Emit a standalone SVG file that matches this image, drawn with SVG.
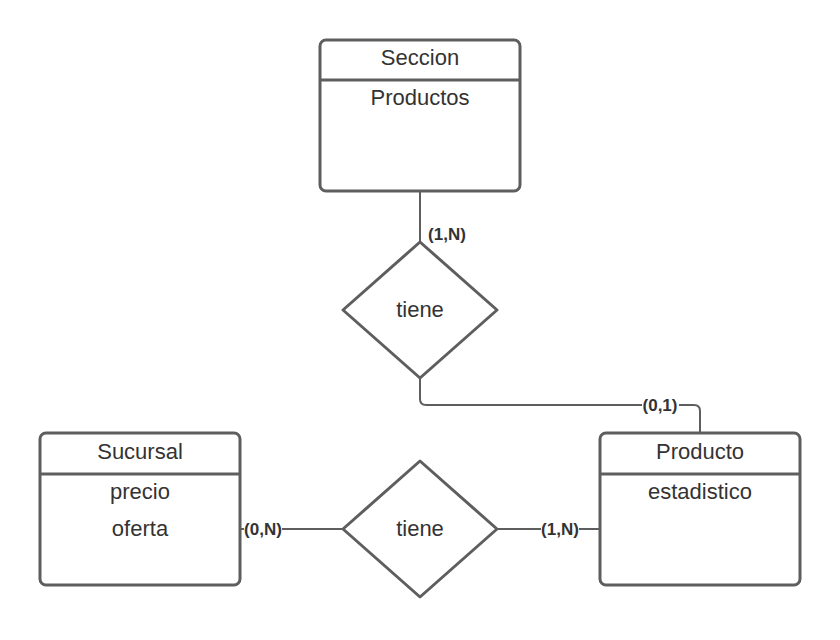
<svg xmlns="http://www.w3.org/2000/svg" width="840" height="640" viewBox="0 0 840 640">
<style>
.box{fill:#fff;stroke:#5e5e5e;stroke-width:3}
.hdr{stroke:#5e5e5e;stroke-width:3}
.dia{fill:#fff;stroke:#5e5e5e;stroke-width:3;stroke-linejoin:round}
.t{font-family:"Liberation Sans",Arial,sans-serif;font-size:22px;fill:#333;text-anchor:middle}
.conn{fill:none;stroke:#5e5e5e;stroke-width:2}
.lbl{font-family:"Liberation Sans",Arial,sans-serif;font-size:17px;font-weight:bold;fill:#333;text-anchor:middle}
.bg{fill:#fff}
</style>
<rect width="840" height="640" fill="#fff"/>
<g id="connectors">
<path class="conn" d="M420 192 V242"/>
<path class="conn" d="M420 378 V399 Q420 405 426 405 H694 Q700 405 700 411 V433"/>
<path class="conn" d="M241 529 H342"/>
<path class="conn" d="M497 529 H600"/>
<rect class="bg" x="642" y="396" width="37" height="18"/>
<rect class="bg" x="244" y="520" width="38" height="18"/>
<rect class="bg" x="541" y="520" width="38" height="18"/>
<text class="lbl" x="447" y="240">(1,N)</text>
<text class="lbl" x="660" y="411">(0,1)</text>
<text class="lbl" x="263" y="535">(0,N)</text>
<text class="lbl" x="560" y="535">(1,N)</text>
</g>
<g id="seccion">
<rect class="box" x="320" y="40" width="200" height="151" rx="6"/>
<line class="hdr" x1="320" y1="80" x2="520" y2="80"/>
<text class="t" x="420" y="65">Seccion</text>
<text class="t" x="420" y="105">Productos</text>
</g>
<g id="rel-tiene-1">
<polygon class="dia" points="420,242 497,310 420,378 343,310"/>
<text class="t" x="420" y="317">tiene</text>
</g>
<g id="sucursal">
<rect class="box" x="40" y="433" width="200" height="152" rx="6"/>
<line class="hdr" x1="40" y1="474" x2="240" y2="474"/>
<text class="t" x="140" y="459">Sucursal</text>
<text class="t" x="140" y="499">precio</text>
<text class="t" x="140" y="536">oferta</text>
</g>
<g id="rel-tiene-2">
<polygon class="dia" points="420,461 497,529 420,597 343,529"/>
<text class="t" x="420" y="536">tiene</text>
</g>
<g id="producto">
<rect class="box" x="600" y="433" width="200" height="152" rx="6"/>
<line class="hdr" x1="600" y1="474" x2="800" y2="474"/>
<text class="t" x="700" y="459">Producto</text>
<text class="t" x="700" y="499">estadistico</text>
</g>
</svg>
